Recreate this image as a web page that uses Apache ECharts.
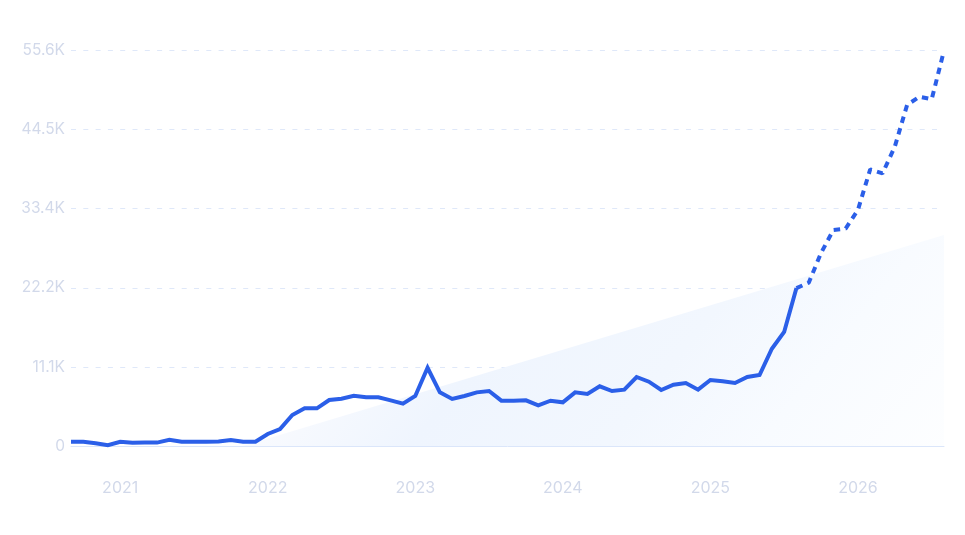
<!DOCTYPE html>
<html>
<head>
<meta charset="utf-8">
<style>
html, body { margin: 0; padding: 0; background: #fff; }
#main { width: 965px; height: 535px; }
</style>
<script src="https://cdn.jsdelivr.net/npm/echarts@6/dist/echarts.min.js"></script>
</head>
<body>
<div id="main"></div>
<script>
// months shown on the x axis, Sep 2020 to Aug 2026
var months = [
    '2020-09','2020-10','2020-11','2020-12',
    '2021-01','2021-02','2021-03','2021-04','2021-05','2021-06','2021-07','2021-08','2021-09','2021-10','2021-11','2021-12',
    '2022-01','2022-02','2022-03','2022-04','2022-05','2022-06','2022-07','2022-08','2022-09','2022-10','2022-11','2022-12',
    '2023-01','2023-02','2023-03','2023-04','2023-05','2023-06','2023-07','2023-08','2023-09','2023-10','2023-11','2023-12',
    '2024-01','2024-02','2024-03','2024-04','2024-05','2024-06','2024-07','2024-08','2024-09','2024-10','2024-11','2024-12',
    '2025-01','2025-02','2025-03','2025-04','2025-05','2025-06','2025-07','2025-08','2025-09','2025-10','2025-11','2025-12',
    '2026-01','2026-02','2026-03','2026-04','2026-05','2026-06','2026-07','2026-08'
];

// measured part, Sep 2020 to Aug 2025
var measured = [
    600, 600, 400, 100,
    600, 450, 480, 480, 880, 600, 600, 600, 620, 850, 600, 600,
    1690, 2390, 4360, 5300, 5300, 6470, 6650, 7070, 6840, 6840, 6420, 5950,
    7030, 11000, 7540, 6610, 7030, 7540, 7730, 6370, 6370, 6420, 5720, 6370,
    6140, 7540, 7310, 8390, 7730, 7920, 9700, 9040, 7870, 8620, 8860, 7920,
    9280, 9100, 8860, 9700, 9980, 13680, 16030, 22200
];

// forecast part, Aug 2025 to Aug 2026
var forecast = [22200, 22960, 27130, 30370, 30560, 33180, 38900, 38330, 42080, 47950, 49100, 48750, 55580];

// straight trend wedge behind the line: [month index, value]
var trendStart = [14, 0];
var trendEnd = [71, 29670];

var yTicks = ['0', '11.1K', '22.2K', '33.4K', '44.5K', '55.6K'];
var yStep = 11120;

var labelFont = 'Inter';
var labelColor = '#d2d9ea';
var lineColor = '#2b5fe8';

var myChart = echarts.init(document.getElementById('main'), null, { renderer: 'canvas' });

var forecastData = [];
for (var i = 0; i < measured.length - 1; i++) forecastData.push(null);
forecastData = forecastData.concat(forecast);

var option = {
    animation: false,
    backgroundColor: '#fff',
    grid: { left: 71, right: 21, top: 50.5, bottom: 89 },
    xAxis: {
        type: 'category',
        data: months,
        boundaryGap: false,
        axisTick: { show: false },
        axisLine: { lineStyle: { color: '#dbe6fa', width: 1 } },
        axisLabel: {
            margin: 34,
            color: labelColor,
            fontFamily: labelFont,
            fontSize: 16,
            interval: function (index, value) { return value.slice(5) === '01'; },
            formatter: function (value) { return value.slice(0, 4); }
        }
    },
    yAxis: {
        type: 'value',
        min: 0,
        max: yStep * (yTicks.length - 1),
        interval: yStep,
        axisLine: { show: false },
        axisTick: { show: false },
        axisLabel: {
            margin: 6,
            color: labelColor,
            fontFamily: labelFont,
            fontSize: 15.5,
            formatter: function (value) { return yTicks[Math.round(value / yStep)]; }
        },
        splitLine: {
            lineStyle: { color: '#dfe8f9', width: 1, type: [5, 7.3] }
        }
    },
    series: [
        {
            name: 'trend',
            type: 'line',
            data: [trendStart, trendEnd],
            symbol: 'none',
            silent: true,
            lineStyle: { width: 0 },
            z: 1,
            areaStyle: {
                opacity: 1,
                color: new echarts.graphic.LinearGradient(270, 430, 689, 770, [
                    { offset: 0, color: '#f8fafe' },
                    { offset: 0.22, color: '#eff5fe' },
                    { offset: 0.5, color: '#f2f7fe' },
                    { offset: 0.72, color: '#f8fbff' },
                    { offset: 1, color: '#fdfeff' }
                ], true)
            }
        },
        {
            name: 'measured',
            type: 'line',
            data: measured,
            symbol: 'none',
            z: 3,
            lineStyle: { color: lineColor, width: 4, join: 'miter' }
        },
        {
            name: 'forecast',
            type: 'line',
            data: forecastData,
            symbol: 'none',
            z: 3,
            lineStyle: { color: lineColor, width: 4, type: [6.5, 5.5] }
        }
    ]
};

myChart.setOption(option);
</script>
</body>
</html>
